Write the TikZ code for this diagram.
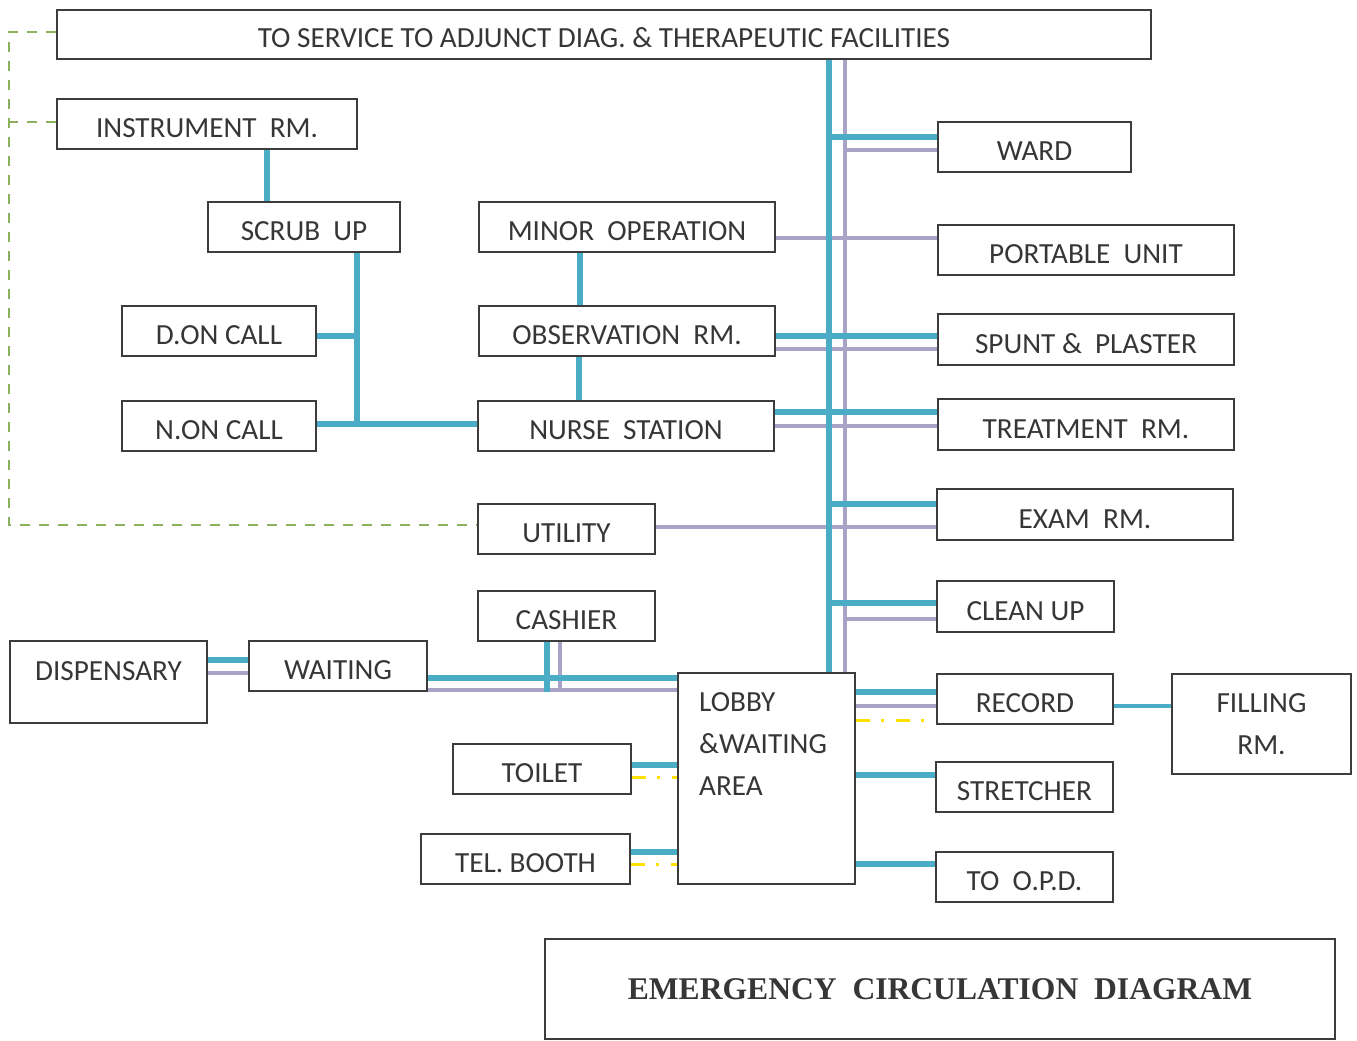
\documentclass[tikz,border=0pt]{standalone}
\usepackage{fontspec}
\setmainfont{Carlito}
\newfontfamily\titlefont{Liberation Serif}
\usetikzlibrary{backgrounds}
\definecolor{flowblue}{HTML}{4BACC6}
\definecolor{flowpurple}{HTML}{A8A4C8}
\definecolor{flowyellow}{HTML}{FFE000}
\definecolor{flowgreen}{HTML}{8DB25E}
\definecolor{edge}{HTML}{3C3C3C}
\definecolor{ink}{HTML}{363636}
\newcommand\rmlabel{\fontsize{29.2pt}{42pt}\selectfont}
\newcommand\sep{\ \ }
\begin{document}
\begin{tikzpicture}[x=1pt,y=-1pt,
  roombare/.style={draw=edge, line width=2pt, rectangle, inner sep=0pt, text=ink, font=\rmlabel},
  room/.style={roombare, text height=27pt, text depth=0pt},
  bl/.style={draw=flowblue, line width=6pt},
  blthin/.style={draw=flowblue, line width=4.5pt},
  pu/.style={draw=flowpurple, line width=3.5pt},
  ye/.style={draw=flowyellow, line width=3pt, dash pattern=on 14pt off 11pt on 3pt off 12pt},
  gr/.style={draw=flowgreen, line width=2.2pt, dash pattern=on 10pt off 9pt}]
\useasboundingbox (0,0) rectangle (1357,1041);

% rooms
\node[room, minimum width=1094pt, minimum height=49pt] (top) at (604,34.5) {TO SERVICE TO ADJUNCT DIAG. \& THERAPEUTIC FACILITIES};
\node[room, minimum width=300pt, minimum height=50pt] (instr) at (207,124) {INSTRUMENT\sep RM.};
\node[room, minimum width=192pt, minimum height=50pt] (scrub) at (304,227) {SCRUB\sep UP};
\node[room, minimum width=194pt, minimum height=50pt] (don) at (219,331) {D.ON CALL};
\node[room, minimum width=194pt, minimum height=50pt] (non) at (219,426) {N.ON CALL};
\node[room, minimum width=296pt, minimum height=50pt] (minor) at (627,227) {MINOR\sep OPERATION};
\node[room, minimum width=296pt, minimum height=50pt] (obs) at (627,331) {OBSERVATION\sep RM.};
\node[room, minimum width=296pt, minimum height=50pt] (nurse) at (626,426) {NURSE\sep STATION};
\node[room, minimum width=177pt, minimum height=50pt] (util) at (566.5,529) {UTILITY};
\node[room, minimum width=177pt, minimum height=50pt] (cash) at (566.5,616) {CASHIER};
\node[roombare, minimum width=197pt, minimum height=82pt, text height=18.7pt, text depth=22pt] (disp) at (108.5,682) {DISPENSARY};
\node[room, minimum width=178pt, minimum height=50pt] (wait) at (338,666) {WAITING};
\node[room, minimum width=177pt, minimum height=211pt] (lobby) at (766.5,778.5) {};
\node[anchor=north west, inner sep=0pt, align=left, text=ink, font=\rmlabel] (lobbytxt) at (699,692) {LOBBY\\\&WAITING\\AREA};
\node[room, minimum width=178pt, minimum height=50pt] (toilet) at (542,769) {TOILET};
\node[room, minimum width=209pt, minimum height=50pt] (tel) at (525.5,859) {TEL. BOOTH};
\node[room, minimum width=193pt, minimum height=50pt] (ward) at (1034.5,147) {WARD};
\node[room, minimum width=296pt, minimum height=50pt] (port) at (1086,250) {PORTABLE\sep UNIT};
\node[room, minimum width=296pt, minimum height=51pt] (spunt) at (1086,339.5) {SPUNT \&\sep PLASTER};
\node[room, minimum width=296pt, minimum height=51pt] (treat) at (1086,424.5) {TREATMENT\sep RM.};
\node[room, minimum width=296pt, minimum height=51pt] (exam) at (1085,514.5) {EXAM\sep RM.};
\node[room, minimum width=177pt, minimum height=51pt] (clean) at (1025.5,606.5) {CLEAN UP};
\node[room, minimum width=176pt, minimum height=50pt] (record) at (1025,699) {RECORD};
\node[roombare, minimum width=179pt, minimum height=100pt, align=center] (fill) at (1261.5,724) {FILLING\\RM.};
\node[room, minimum width=177pt, minimum height=50pt] (stretch) at (1024.5,787) {STRETCHER};
\node[room, minimum width=177pt, minimum height=50pt] (opd) at (1024.5,877) {TO\sep O.P.D.};
\node[room, minimum width=790pt, minimum height=100pt, font=\titlefont\bfseries\fontsize{31.6pt}{36pt}\selectfont, text height=21pt] (title) at (940,989) {EMERGENCY\sep CIRCULATION\sep DIAGRAM};

% bus positions
\coordinate (bt) at (829,0);
\coordinate (pt) at (845,0);
\coordinate (sb) at (357,0);
\coordinate (gx) at (9,0);

\begin{scope}[on background layer]
  % service links (purple)
  \draw[pu] (top.south -| pt) -- (lobby.north -| pt);
  \draw[pu] ([yshift=-3pt]ward.west) -- ([yshift=-3pt]ward.west -| pt);
  \draw[pu] ([yshift=-11pt]minor.east) -- ([yshift=-11pt]minor.east -| port.west);
  \draw[pu] ([yshift=-18pt]obs.east) -- ([yshift=-18pt]obs.east -| spunt.west);
  \draw[pu] (nurse.east) -- (nurse.east -| treat.west);
  \draw[pu] ([yshift=2pt]util.east) -- ([yshift=2pt]util.east -| exam.west);
  \draw[pu] ([yshift=-12.5pt]clean.west) -- ([yshift=-12.5pt]clean.west -| pt);
  \draw[pu] ([yshift=-24pt]wait.east) -- ([yshift=-24pt]wait.east -| lobby.west);
  \draw[pu] ([xshift=-6.5pt]cash.south) -- ([xshift=-6.5pt]cash.south |- wait.south);
  \draw[pu] ([yshift=9pt]disp.east) -- ([yshift=9pt]disp.east -| wait.west);
  \draw[pu] ([yshift=-7pt]record.west) -- ([yshift=-7pt]record.west -| lobby.east);

  % main circulation (blue)
  \draw[bl] ([xshift=60pt]instr.south) -- ([xshift=60pt]instr.south |- scrub.north);
  \draw[bl] ([xshift=53pt]scrub.south) -- ([yshift=2pt]non.east -| sb);
  \draw[bl] ([yshift=-5pt]don.east) -- ([yshift=-5pt]don.east -| sb);
  \draw[bl] ([yshift=2pt]non.east) -- ([yshift=2pt]non.east -| nurse.west);
  \draw[bl] ([xshift=-47pt]minor.south) -- ([xshift=-47pt]minor.south |- obs.north);
  \draw[bl] ([xshift=-48pt]obs.south) -- ([xshift=-48pt]obs.south |- nurse.north);
  \draw[bl] (top.south -| bt) -- (lobby.north -| bt);
  \draw[bl] ([yshift=10pt]ward.west) -- ([yshift=10pt]ward.west -| bt);
  \draw[bl] ([yshift=-5pt]obs.east) -- ([yshift=-5pt]obs.east -| spunt.west);
  \draw[bl] ([yshift=14pt]nurse.east) -- ([yshift=14pt]nurse.east -| treat.west);
  \draw[bl] ([yshift=10.5pt]exam.west) -- ([yshift=10.5pt]exam.west -| bt);
  \draw[bl] ([yshift=3.5pt]clean.west) -- ([yshift=3.5pt]clean.west -| bt);
  \draw[bl] ([yshift=-12pt]wait.east) -- ([yshift=-12pt]wait.east -| lobby.west);
  \draw[bl] ([xshift=-19.5pt]cash.south) -- ([xshift=-19.5pt]cash.south |- wait.south);
  \draw[bl] ([yshift=22pt]disp.east) -- ([yshift=22pt]disp.east -| wait.west);
  \draw[bl] ([yshift=7pt]record.west) -- ([yshift=7pt]record.west -| lobby.east);
  \draw[bl] ([yshift=12pt]stretch.west) -- ([yshift=12pt]stretch.west -| lobby.east);
  \draw[bl] ([yshift=13pt]opd.west) -- ([yshift=13pt]opd.west -| lobby.east);
  \draw[bl] ([yshift=4pt]toilet.east) -- ([yshift=4pt]toilet.east -| lobby.west);
  \draw[bl] ([yshift=7pt]tel.east) -- ([yshift=7pt]tel.east -| lobby.west);
  \draw[blthin] ([yshift=-7pt]record.east) -- ([yshift=-7pt]record.east -| fill.west);

  % public links (yellow)
  \draw[ye] ([yshift=-21pt]lobby.east |- record.west) -- ([yshift=-21pt]record.west);
  \draw[ye] ([yshift=-8pt]toilet.east) -- ([yshift=-8pt]toilet.east -| lobby.west);
  \draw[ye] ([yshift=-5pt]tel.east) -- ([yshift=-5pt]tel.east -| lobby.west);

  % supply links (green)
  \draw[gr] ([yshift=2.5pt]top.west) -- ([yshift=2.5pt]top.west -| gx)
            -- ([yshift=4pt]util.west -| gx) -- ([yshift=4pt]util.west);
  \draw[gr] ([yshift=2pt]instr.west) -- ([yshift=2pt]instr.west -| gx);
\end{scope}
\end{tikzpicture}
\end{document}
